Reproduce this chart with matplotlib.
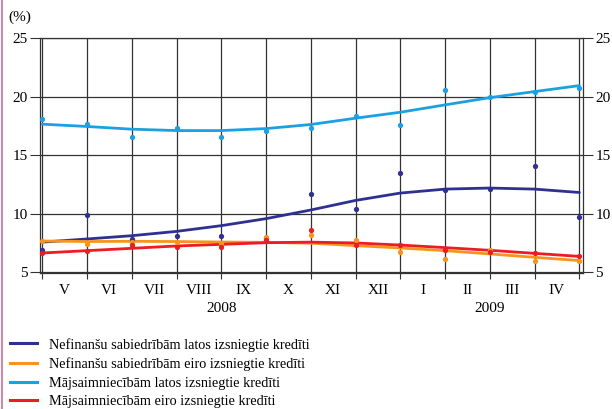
import numpy as np
import matplotlib
matplotlib.use("Agg")
import matplotlib.pyplot as plt
from matplotlib.lines import Line2D

months = ["V", "VI", "VII", "VIII", "IX", "X", "XI", "XII", "I", "II", "III", "IV"]
years = ["2008", "2009"]

# observed monthly values (%)
nef_lat = [6.85, 9.84, 7.85, 8.10, 8.05, 7.90, 11.69, 10.41, 13.46, 11.98, 12.09, 14.09, 9.73]
nef_eur = [7.65, 7.42, 7.59, 7.60, 7.50, 7.96, 8.13, 7.70, 6.71, 6.11, 6.90, 5.91, 5.90]
maj_lat = [18.10, 17.67, 16.57, 17.33, 16.57, 17.07, 17.36, 18.36, 17.60, 20.60, 19.98, 20.44, 20.73]
maj_eur = [6.59, 6.82, 7.30, 7.10, 7.14, 7.70, 8.56, 7.33, 7.33, 6.90, 6.73, 6.59, 6.33]

# trend values (%)
nef_lat_tr = [7.55, 7.82, 8.10, 8.47, 8.96, 9.56, 10.30, 11.12, 11.75, 12.09, 12.18, 12.09, 11.80]
nef_eur_tr = [7.65, 7.60, 7.62, 7.60, 7.56, 7.53, 7.46, 7.25, 7.05, 6.82, 6.54, 6.25, 5.97]
maj_lat_tr = [17.65, 17.45, 17.22, 17.10, 17.10, 17.27, 17.62, 18.16, 18.67, 19.30, 19.92, 20.44, 20.95]
maj_eur_tr = [6.62, 6.82, 7.02, 7.22, 7.36, 7.50, 7.55, 7.48, 7.30, 7.08, 6.85, 6.59, 6.33]

labels = ["Nefinanšu sabiedrībām latos izsniegtie kredīti",
          "Nefinanšu sabiedrībām eiro izsniegtie kredīti",
          "Mājsaimniecībām latos izsniegtie kredīti",
          "Mājsaimniecībām eiro izsniegtie kredīti"]
colors = ["#2e3192", "#f7941d", "#1ba1e2", "#ed1c24"]
series = [nef_lat, nef_eur, maj_lat, maj_eur]
trends = [nef_lat_tr, nef_eur_tr, maj_lat_tr, maj_eur_tr]

plt.rcParams['font.family'] = ['Liberation Serif', 'DejaVu Serif']

fig = plt.figure(figsize=(6.12, 4.09), dpi=100)
ax = fig.add_axes([40/612, 1-272.5/409, (582.7-40)/612, (272.5-38.3)/409])

x = np.arange(len(nef_lat))
for vals, tr, c in zip(series, trends, colors):
    ax.plot(x, tr, color=c, lw=2.0, solid_capstyle='round', solid_joinstyle='round', zorder=3)
    ax.plot(x, vals, 'o', color=c, ms=3.8, mec='none', zorder=4)

ax.set_xlim(-0.05, 12.075)
ax.set_ylim(4.95, 25)
ax.set_yticks([5, 10, 15, 20, 25])
ax.set_xticks(x)
ax.set_xticklabels([])
ax.set_xticks(np.arange(len(months)) + 0.5, minor=True)
ax.set_xticklabels(months, minor=True)
ax.tick_params(axis='x', which='major', direction='out', length=4, width=0.8, color='#333333')
ax.tick_params(axis='x', which='minor', length=0, pad=8.5, labelsize=11)
ax.tick_params(axis='y', direction='out', length=7, width=0.8, color='#333333',
               labelsize=11, left=True, right=True, labelleft=True, labelright=True, pad=2)
ax.grid(True, which='major', axis='both', color='#333333', lw=0.9)
ax.set_axisbelow(True)
for s in ax.spines.values():
    s.set_color('#333333')
    s.set_linewidth(0.9)

ax.text(4, -35.5/234.2, years[0], transform=ax.get_xaxis_transform(), ha='center', va='center', fontsize=11)
ax.text(10, -35.5/234.2, years[1], transform=ax.get_xaxis_transform(), ha='center', va='center', fontsize=11)

fig.text(8/612, 1-17/409, "(%)", ha='left', va='center', fontsize=11)

# left border line
fig.add_artist(Line2D([1.5/612, 1.5/612], [0, 1], color='#d08aa8', lw=1.5, transform=fig.transFigure))

handles = [Line2D([], [], color=c, lw=2.2) for c in colors]
fig.legend(handles, labels, loc='upper left', bbox_to_anchor=(4.5/612, 1-332/409),
           frameon=False, fontsize=10.3, handlelength=1.9, handletextpad=0.78,
           labelspacing=0.4, borderaxespad=0)

fig.savefig("out.png", dpi=100)
